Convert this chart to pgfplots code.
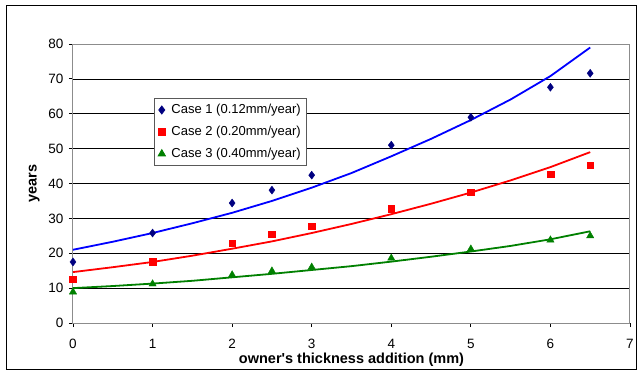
\documentclass[border=0pt]{standalone}
\usepackage{pgfplots}
\pgfplotsset{compat=1.18}
\usepackage{fontspec}
\setmainfont{Liberation Sans}[Ligatures=TeXOff]
\definecolor{navy}{RGB}{0,0,128}
\definecolor{xlblue}{RGB}{0,0,255}
\definecolor{xlred}{RGB}{255,0,0}
\definecolor{xlgreen}{RGB}{0,128,0}
\begin{document}
\begin{tikzpicture}[x=1pt,y=1pt]
\useasboundingbox (-73,-49) rectangle (564,323);
\draw[black, line width=1pt] (-66,-46) rectangle (563,317);
\begin{axis}[
  at={(0,0)}, anchor=south west,
  scale only axis, width=557pt, height=279pt,
  xmin=0, xmax=7, ymin=0, ymax=80,
  xtick={0,1,...,7}, ytick={0,10,...,80},
  tick align=outside, tick pos=left,
  major tick length=4pt,
  tick style={black, line width=0.8pt},
  axis line style={draw=gray!90, line width=1pt},
  ymajorgrids, grid style={black, line width=0.7pt},
  /pgf/number format/assume math mode=true,
  tick label style={font=\fontsize{13.5}{15}\selectfont},
  xticklabel style={yshift=-9pt},
  yticklabel style={xshift=-2pt},
  xlabel={\textbf{owner's thickness addition (mm)}},
  ylabel={\textbf{years}},
  label style={font=\fontsize{14.5}{16}\selectfont},
  xlabel style={yshift=3pt},
  ylabel style={yshift=2pt},
  legend style={at={(0.145,0.806)}, anchor=north west, draw=gray!70!black, line width=0.8pt,
    font=\fontsize{13}{15}\selectfont, row sep=7pt, inner xsep=4pt, inner ysep=4pt,
    /tikz/every odd column/.append style={column sep=4pt}},
  legend cell align=left,
]
\addplot[xlblue, line width=1.8pt, forget plot] coordinates {
(0,21) (0.5,23.3) (1,25.8) (1.5,28.6) (2,31.6) (2.5,35) (3,38.8) (3.5,43) (4,47.8) (4.5,52.8) (5,58.2) (5.5,64.1) (6,70.8) (6.5,79)};
\addplot[xlred, line width=1.8pt, forget plot] coordinates {
(0,14.6) (0.5,16) (1,17.5) (1.5,19.3) (2,21.3) (2.5,23.4) (3,25.8) (3.5,28.4) (4,31.2) (4.5,34.2) (5,37.4) (5.5,40.9) (6,44.7) (6.5,49)};
\addplot[xlgreen, line width=1.8pt, forget plot] coordinates {
(0,10) (0.5,10.6) (1,11.3) (1.5,12.1) (2,13.1) (2.5,14.1) (3,15.2) (3.5,16.3) (4,17.6) (4.5,19) (5,20.5) (5.5,22.1) (6,24) (6.5,26.3)};
\addplot[only marks, mark=diamond*, mark size=4pt, mark options={draw=navy, fill=navy}] coordinates {
(0,17.5) (1,25.8) (2,34.4) (2.5,38.1) (3,42.4) (4,51) (5,59) (6,67.6) (6.5,71.6)};
\addlegendentry{Case 1 (0.12mm/year)}
\addplot[only marks, mark=square*, mark size=3.3pt, mark options={draw=xlred, fill=xlred}] coordinates {
(0,12.6) (1,17.5) (2,22.9) (2.5,25.5) (3,27.8) (4,32.7) (5,37.5) (6,42.7) (6.5,45.3)};
\addlegendentry{Case 2 (0.20mm/year)}
\addplot[only marks, mark=triangle*, mark size=4.2pt, mark options={draw=xlgreen, fill=xlgreen}] coordinates {
(0,8.9) (1,11.2) (2,13.8) (2.5,14.9) (3,16) (4,18.6) (5,21.2) (6,23.8) (6.5,25)};
\addlegendentry{Case 3 (0.40mm/year)}
\end{axis}
\end{tikzpicture}
\end{document}
